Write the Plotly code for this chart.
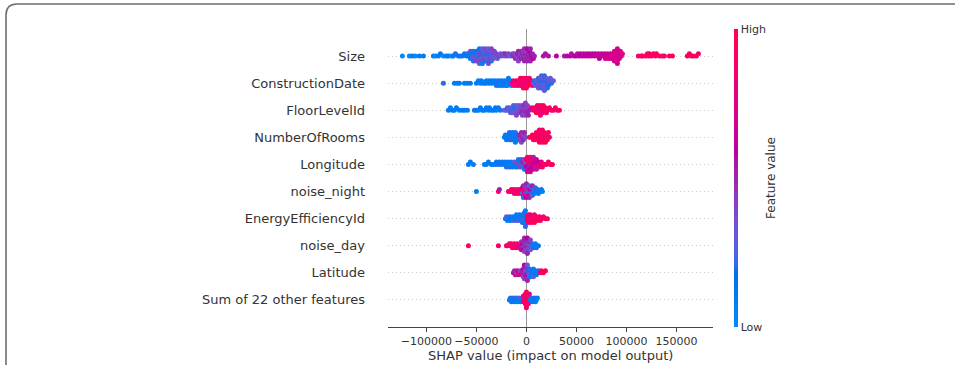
import numpy as np
import plotly.graph_objects as go

# ---------------- data (SHAP values in thousands, feature value 0..1) -------------
FEATURES = ["Size", "ConstructionDate", "FloorLevelId", "NumberOfRooms", "Longitude",
            "noise_night", "EnergyEfficiencyId", "noise_day", "Latitude",
            "Sum of 22 other features"]

size_pts = [
    (-124,.0),(-117,.0),(-114,.1),(-111,.0),(-107,.1),(-103,.1),
    (-93,.1),(-91,.0),(-88,.1),(-86,.1),(-83,.0),(-80,.1),(-78,.1),(-75,.0),(-73,.1),(-71,.2),
    (-68,.1),(-66,.1),(-64,.2),(-62,.1),
    (-60,.1),(-59,.2),(-58,.1),
    (-57,.2),(-56,.1),(-56,.3),(-55,.2),
    (-54,.1),(-54,.3),(-53,.2),(-53,.2),(-52,.3),
    (-51,.2),(-51,.3),(-50,.1),(-50,.4),(-49,.2),(-49,.3),
    (-48,.3),(-48,.2),(-47,.4),(-47,.1),(-47,.3),(-46,.2),(-46,.4),
    (-45,.3),(-45,.2),(-44,.4),(-44,.3),(-44,.1),(-43,.3),(-43,.2),
    (-42,.4),(-42,.3),(-41,.2),(-41,.4),(-40,.3),(-40,.2),
    (-39,.3),(-39,.4),(-38,.2),(-38,.3),(-38,.4),(-37,.3),(-37,.2),
    (-36,.4),(-36,.3),(-35,.2),(-35,.4),(-34,.3),
    (-33,.4),(-33,.3),(-32,.4),(-31,.3),
    (-30,.4),(-29,.3),(-28,.4),(-26,.3),(-25,.4),(-23,.4),(-22,.3),(-21,.5),(-19,.4),
    (-18,.4),(-16,.3),(-14,.4),(-13,.5),
    (-12,.4),(-11,.5),(-10,.4),
    (-9,.5),(-9,.4),(-8,.5),(-8,.4),
    (-6,.5),(-6,.4),(-5,.5),(-5,.5),(-4,.4),(-4,.5),
    (-3,.5),(-3,.4),(-2,.5),(-2,.5),(-1,.4),(-1,.5),
    (0,.5),(0,.4),(1,.5),(1,.6),(2,.5),(2,.5),
    (3,.5),(3,.6),(4,.5),(4,.5),(5,.6),
    (6,.5),(7,.6),(8,.5),
    (17,.55),(19,.55),(22,.55),(30,.6),
    (38,.55),(41,.6),(44,.6),(45,.55),(48,.6),(50,.6),(51,.55),(53,.6),(54,.6),(56,.6),(57,.55),
    (59,.6),(60,.65),(62,.6),(63,.6),(65,.65),(66,.6),(68,.65),(69,.6),(71,.65),(72,.65),(73,.6),
    (74,.65),(75,.65),(77,.7),(78,.65),(79,.65),(80,.7),(81,.65),(82,.7),(83,.7),(84,.65),(85,.7),(86,.7),
    (87,.7),(88,.7),(88,.75),(88,.7),(89,.7),(89,.75),(90,.7),(90,.7),(91,.75),(91,.7),(91,.7),
    (92,.75),(92,.7),(93,.7),(94,.75),(95,.75),(96,.75),
    (112,.9),(115,1.),(116,.9),(119,.9),(121,1.),(122,.9),(123,.9),(125,1.),(127,.9),(129,.9),
    (130,1.),(133,.9),(136,1.),(138,.9),(143,.9),(146,1.),
    (161,1.),(163,.9),(165,1.),(167,.9),(170,1.),(172,.9),
]

construction_pts = [
    (-83,.2),(-72,.1),(-69,.1),(-67,.1),(-62,.1),(-59,.1),(-56,.1),
    (-50,.1),(-48,.1),(-46,.1),(-45,.1),(-43,.1),(-41,.1),(-40,.1),(-38,.1),(-37,.1),(-35,.1),
    (-34,.1),(-32,.1),(-31,.1),(-30,.1),(-29,.1),(-28,.2),(-27,.1),(-26,.1),
    (-25,.1),(-24,.1),(-23,.2),(-22,.1),(-21,.1),(-20,.1),(-19,.2),(-19,.1),(-18,.1),(-17,.2),
    (-16,.1),(-15,.1),
    (-14,.9),(-13,.8),(-12,.9),(-11,.9),(-10,.8),(-9,.9),(-8,.9),
    (-7,.9),(-6,.8),(-6,1.),(-5,.9),(-4,.9),(-4,.8),(-3,.9),(-3,1.),(-2,.9),(-1,.9),(-1,.8),
    (0,.9),(0,1.),(1,.9),(2,.8),(2,.9),(3,.9),(4,1.),(5,.9),(6,.9),
    (7,.3),(8,.2),
    (9,.3),(10,.2),(10,.3),(11,.3),
    (12,.2),(12,.3),(13,.3),(13,.2),(14,.3),(14,.3),
    (15,.2),(15,.3),(16,.3),(16,.2),(17,.3),(17,.3),(16,.3),
    (18,.2),(18,.3),(19,.3),(19,.2),(20,.3),(20,.3),
    (21,.2),(22,.3),(23,.3),(22,.2),
    (24,.3),(25,.2),(27,.3),
]

floor_pts = [
    (-78,.1),(-76,.1),(-74,.1),(-72,.1),(-70,.1),(-67,.1),(-64,.1),(-62,.1),(-59,.1),
    (-52,.1),(-50,.1),(-48,.1),(-46,.1),(-44,.1),(-42,.1),(-40,.1),(-38,.1),(-37,.1),(-35,.1),
    (-33,.1),(-31,.1),(-30,.1),(-28,.1),(-26,.1),
    (-22,.3),(-20,.3),(-19,.2),(-18,.3),(-17,.3),(-16,.3),(-15,.2),(-14,.3),(-14,.3),(-13,.3),
    (-12,.3),(-12,.2),(-11,.3),(-10,.3),(-10,.4),(-9,.3),(-8,.3),(-8,.4),(-7,.3),
    (-6,.4),(-5,.4),(-5,.5),(-4,.4),(-4,.4),(-3,.5),(-3,.4),(-2,.4),(-2,.5),(-1,.4),(-1,.4),
    (0,.5),(0,.4),(1,.5),(1,.4),(2,.5),(3,.5),
    (5,.8),(7,.9),(8,.9),(9,.8),(10,.9),(10,1.),(11,.9),(12,.9),(12,.8),(13,.9),(14,1.),(14,.9),
    (15,.9),(16,.9),(16,.8),(17,.9),(18,1.),(19,.9),(20,.9),(21,.9),(23,1.),(25,.9),(27,.9),
    (29,1.),(31,.9),(33,.9),
]

rooms_pts = [
    (-22,.1),(-21,.1),(-20,.1),(-19,.2),(-18,.1),(-17,.1),(-17,.2),(-16,.1),(-15,.1),(-15,.2),
    (-14,.1),(-13,.2),(-13,.1),(-12,.1),(-11,.2),(-11,.1),(-10,.1),(-9,.2),(-8,.1),
    (-7,.4),(-7,.5),(-6,.4),(-5,.5),(-5,.4),(-4,.5),(-3,.4),(-3,.5),(-2,.5),(-1,.4),
    (3,.9),(5,.9),(6,1.),(7,.9),(8,.9),(9,1.),(9,.9),(10,.9),(11,.9),(11,1.),(12,.9),(12,.9),
    (13,1.),(13,.9),(14,.9),(14,.9),(15,1.),(15,.9),(16,.9),(16,.9),(17,1.),(17,.9),(18,.9),
    (18,.9),(19,1.),(20,.9),(20,.9),(21,.9),(22,1.),(23,.9),
]

longitude_pts = [
    (-58,.1),(-56,.1),(-53,.1),(-42,.1),(-40,.1),(-38,.1),
    (-35,.1),(-33,.1),(-31,.1),(-30,.1),(-28,.2),(-27,.1),(-25,.1),(-24,.2),(-22,.1),(-21,.1),
    (-20,.2),(-19,.1),(-18,.1),(-17,.2),(-16,.1),(-15,.1),(-14,.2),
    (-13,.1),(-12,.3),(-11,.1),(-10,.2),(-9,.4),(-9,.1),(-8,.2),(-7,.3),(-6,.1),(-6,.4),(-5,.2),
    (-4,.3),(-4,.5),(-3,.2),(-2,.4),(-2,.1),(-1,.5),(-1,.3),
    (0,.6),(0,.8),(1,.5),(1,.9),(1,.7),(2,.6),(2,.9),(3,.5),(3,.8),(3,.6),(4,.9),(4,.7),(5,.5),
    (5,.8),(6,.6),(6,.9),(7,.7),(7,.5),(8,.8),(8,.6),(9,.9),(10,.7),(10,.5),(11,.8),(12,.6),
    (13,.9),(14,.7),(15,.8),(16,.9),
    (18,.9),(20,1.),(22,.9),(24,.9),(26,1.),
]

noise_night_pts = [
    (-50,.1),(-28,.9),(-27,.5),
    (-18,.9),(-16,.9),(-15,1.),(-14,.9),(-13,.9),(-12,.8),(-11,.9),(-10,.9),(-9,1.),(-8,.9),
    (-7,.8),(-6,.9),
    (-5,.5),(-5,.9),(-4,.3),(-4,.6),(-3,.9),(-3,.5),(-3,.2),(-2,.6),(-2,.9),(-1,.4),(-1,.5),
    (-1,.8),(0,.3),(0,.6),(0,.5),(1,.9),(1,.4),(1,.2),(2,.5),(2,.7),(3,.3),(3,.5),(4,.2),(4,.6),
    (5,.4),(5,.2),(6,.3),(6,.5),(7,.2),(8,.3),(8,.1),(9,.2),
    (10,.1),(11,.2),(12,.1),(13,.1),(15,.1),(16,.1),
]

energy_pts = [
    (-21,.1),(-20,.3),(-19,.1),(-18,.1),(-17,.2),(-16,.1),(-15,.1),(-14,.1),(-13,.3),(-12,.1),
    (-11,.1),(-10,.2),(-10,.1),(-9,.1),(-8,.1),(-8,.3),(-7,.1),(-6,.1),(-6,.2),
    (-5,.1),(-4,.1),(-4,.2),(-3,.1),(-3,.1),(-3,.3),(-2,.1),(-2,.1),(-2,.2),(-1,.1),(-1,.1),
    (-1,.2),(0,.1),
    (1,.9),(1,1.),(2,.9),(2,.9),(3,1.),(3,.9),(4,.9),(4,.8),(5,.9),(6,1.),(6,.9),(7,.9),(8,.9),
    (8,1.),(9,.9),(10,.9),(11,1.),(12,.9),(13,.9),(14,1.),(15,.9),(17,.9),(19,1.),(21,.9),
]

noise_day_pts = [
    (-58,.9),(-28,.9),
    (-20,.9),(-19,1.),(-17,.9),(-16,.9),(-15,.9),(-14,.8),(-13,.9),(-12,.9),(-11,1.),(-10,.9),
    (-9,.8),(-8,.9),
    (-7,.6),(-6,.9),(-6,.5),(-5,.4),(-5,.7),(-4,.5),(-4,.6),(-3,.4),(-3,.5),(-3,.6),(-2,.5),
    (-2,.4),(-2,.5),(-1,.6),(-1,.4),(-1,.5),(0,.5),(0,.4),(0,.5),(1,.4),(1,.6),(1,.5),(2,.5),
    (2,.3),(3,.4),(3,.5),(4,.3),(4,.4),(5,.3),(6,.2),
    (7,.2),(8,.1),(9,.1),(10,.2),(12,.1),
]

latitude_pts = [
    (-13,.7),(-12,.5),(-11,.8),(-10,.4),(-9,.7),(-8,.5),(-7,.9),(-6,.4),(-5,.6),(-4,.8),(-4,.5),
    (-3,.5),(-3,.6),(-3,.4),(-2,.5),(-2,.4),(-2,.6),(-1,.5),(-1,.3),(-1,.5),(0,.4),(0,.6),(0,.5),
    (1,.4),(1,.3),(1,.5),(2,.4),(2,.2),(3,.3),(3,.2),
    (4,.1),(5,.2),(5,.1),(6,.2),(7,.1),(7,.3),(8,.1),(9,.2),(10,.1),(11,.1),(12,.2),
    (14,.9),(15,1.),(17,.9),(19,1.),
]

other_pts = [
    (-17,.1),(-16,.2),(-15,.1),(-14,.1),(-13,.2),(-12,.1),(-11,.1),(-10,.2),(-9,.1),(-8,.1),
    (-7,.3),(-6,.1),(-5,.2),(-4,.1),
    (-3,.9),(-3,.8),(-2,1.),(-2,.9),(-2,.9),(-1,.9),(-1,1.),(-1,.8),(0,.9),(0,1.),(0,.9),(1,.9),
    (1,.8),(1,1.),(2,.9),(2,.9),(3,.8),
    (4,.1),(5,.2),(6,.1),(7,.1),(8,.2),(9,.1),(10,.1),(11,.1),
]

ROWS = [size_pts, construction_pts, floor_pts, rooms_pts, longitude_pts, noise_night_pts,
        energy_pts, noise_day_pts, latitude_pts, other_pts]

X_TICKS = [-100000, -50000, 0, 50000, 100000, 150000]
X_TICK_TEXT = ["\u2212100000", "\u221250000", "0", "50000", "100000", "150000"]
UNIT = 1000.0  # values above are in thousands


# ---------------- SHAP red-blue colormap (LCH interpolation) ----------------
def lch_to_hex(L, C, h):
    a, b = C * np.cos(h), C * np.sin(h)
    fy = (L + 16) / 116.0
    fx, fz = fy + a / 500.0, fy - b / 200.0

    def finv(t):
        return t ** 3 if t > 6 / 29 else 3 * (6 / 29) ** 2 * (t - 4 / 29)
    X, Y, Z = 0.95047 * finv(fx), 1.0 * finv(fy), 1.08883 * finv(fz)
    r = 3.2406 * X - 1.5372 * Y - 0.4986 * Z
    g = -0.9689 * X + 1.8758 * Y + 0.0415 * Z
    bl = 0.0557 * X - 0.2040 * Y + 1.0570 * Z
    out = []
    for c in (r, g, bl):
        c = 1.055 * c ** (1 / 2.4) - 0.055 if c > 0.0031308 else 12.92 * c
        out.append(int(round(min(max(c, 0), 1) * 255)))
    return "#%02x%02x%02x" % tuple(out)


blue_lch = [54., 70., 4.6588]
red_lch = [54., 90., 0.35470565 + 2 * np.pi]
l_mid = 40.
nsteps = 100
l_vals = list(np.linspace(blue_lch[0], l_mid, nsteps // 2)) + list(np.linspace(l_mid, red_lch[0], nsteps // 2))
c_vals = np.linspace(blue_lch[1], red_lch[1], nsteps)
h_vals = np.linspace(blue_lch[2], red_lch[2], nsteps)
colorscale = [[i / (nsteps - 1), lch_to_hex(l_vals[i], c_vals[i], h_vals[i])] for i in range(nsteps)]


# ---------------- beeswarm offsets (SHAP-style layering) ----------------
def swarm(xs, binw=3.0, row_height=0.4):
    xs = np.asarray(xs, float)
    q = np.floor((xs - xs.min()) / binw).astype(int)
    order = np.argsort(q, kind="stable")
    ys = np.zeros(len(xs))
    last, layer = None, 0
    for ind in order:
        if q[ind] != last:
            layer = 0
        ys[ind] = np.ceil(layer / 2) * ((layer % 2) * 2 - 1)
        layer += 1
        last = q[ind]
    ys *= 0.9 * (row_height / np.max(ys + 1))
    return ys


n = len(FEATURES)
all_x, all_y, all_c = [], [], []
for i, pts in enumerate(ROWS):
    xs = [p[0] for p in pts]
    cs = [p[1] for p in pts]
    pos = n - 1 - i
    ys = swarm(xs)
    all_x += [x * UNIT for x in xs]
    all_y += list(pos + ys)
    all_c += cs

# ---------------- figure ----------------
W, H = 955, 365
L_, R_, T_, B_ = 388, 242, 29, 38
pw, ph = W - L_ - R_, H - T_ - B_


def px_x(p):
    return (p - L_) / pw


def px_y(p):
    return (H - B_ - p) / ph


fig = go.Figure()
fig.add_trace(go.Scatter(
    x=all_x, y=all_y, mode="markers",
    marker=dict(size=5, color=all_c, colorscale=colorscale, cmin=0, cmax=1,
                line=dict(width=0), opacity=1,
                showscale=True,
                colorbar=dict(thickness=4, thicknessmode="pixels", len=1.0, lenmode="fraction",
                              y=0.5, yanchor="middle", x=px_x(734), xanchor="left",
                              xpad=0, ypad=0, outlinewidth=0,
                              tickvals=[0, 1], ticktext=["Low", "High"], ticks="",
                              tickfont=dict(family="DejaVu Sans", size=11, color="#333333"))),
    hoverinfo="skip", showlegend=False,
))

fig.update_layout(
    width=W, height=H, margin=dict(l=L_, r=R_, t=T_, b=B_, autoexpand=False),
    paper_bgcolor="white", plot_bgcolor="white",
    font=dict(family="DejaVu Sans", color="#333333"),
    xaxis=dict(range=[-138400, 186600], tickvals=X_TICKS, ticktext=X_TICK_TEXT, tickangle=0,
               showgrid=False, zeroline=True, zerolinecolor="#999999", zerolinewidth=1,
               showline=True, linecolor="#444444", linewidth=1,
               ticks="outside", ticklen=4, tickcolor="#444444",
               tickfont=dict(size=11, color="#333333")),
    yaxis=dict(range=[-1, 10], tickvals=list(range(n)), ticktext=FEATURES[::-1],
               showgrid=True, gridcolor="#cccccc", gridwidth=1, griddash="1px,3px",
               zeroline=False, showline=False, ticks="", ticklabelstandoff=22,
               tickfont=dict(size=13, color="#333333")),
    annotations=[
        dict(text="SHAP value (impact on model output)", xref="paper", yref="paper",
             x=0.5, y=px_y(355), xanchor="center", yanchor="middle", showarrow=False,
             font=dict(size=13, color="#333333")),
        dict(text="Feature value", xref="paper", yref="paper", x=px_x(771), y=px_y(178),
             xanchor="center", yanchor="middle", textangle=-90, showarrow=False,
             font=dict(size=12, color="#333333")),
    ],
    shapes=[
        dict(type="path", xref="paper", yref="paper",
             path="M %f %f L %f %f Q %f %f %f %f L %f %f" % (
                 px_x(6), px_y(380), px_x(6), px_y(15), px_x(6), px_y(4), px_x(17), px_y(4),
                 px_x(970), px_y(4)),
             line=dict(color="#6e6e6e", width=1.6)),
    ],
)

fig.write_html("out.html")
